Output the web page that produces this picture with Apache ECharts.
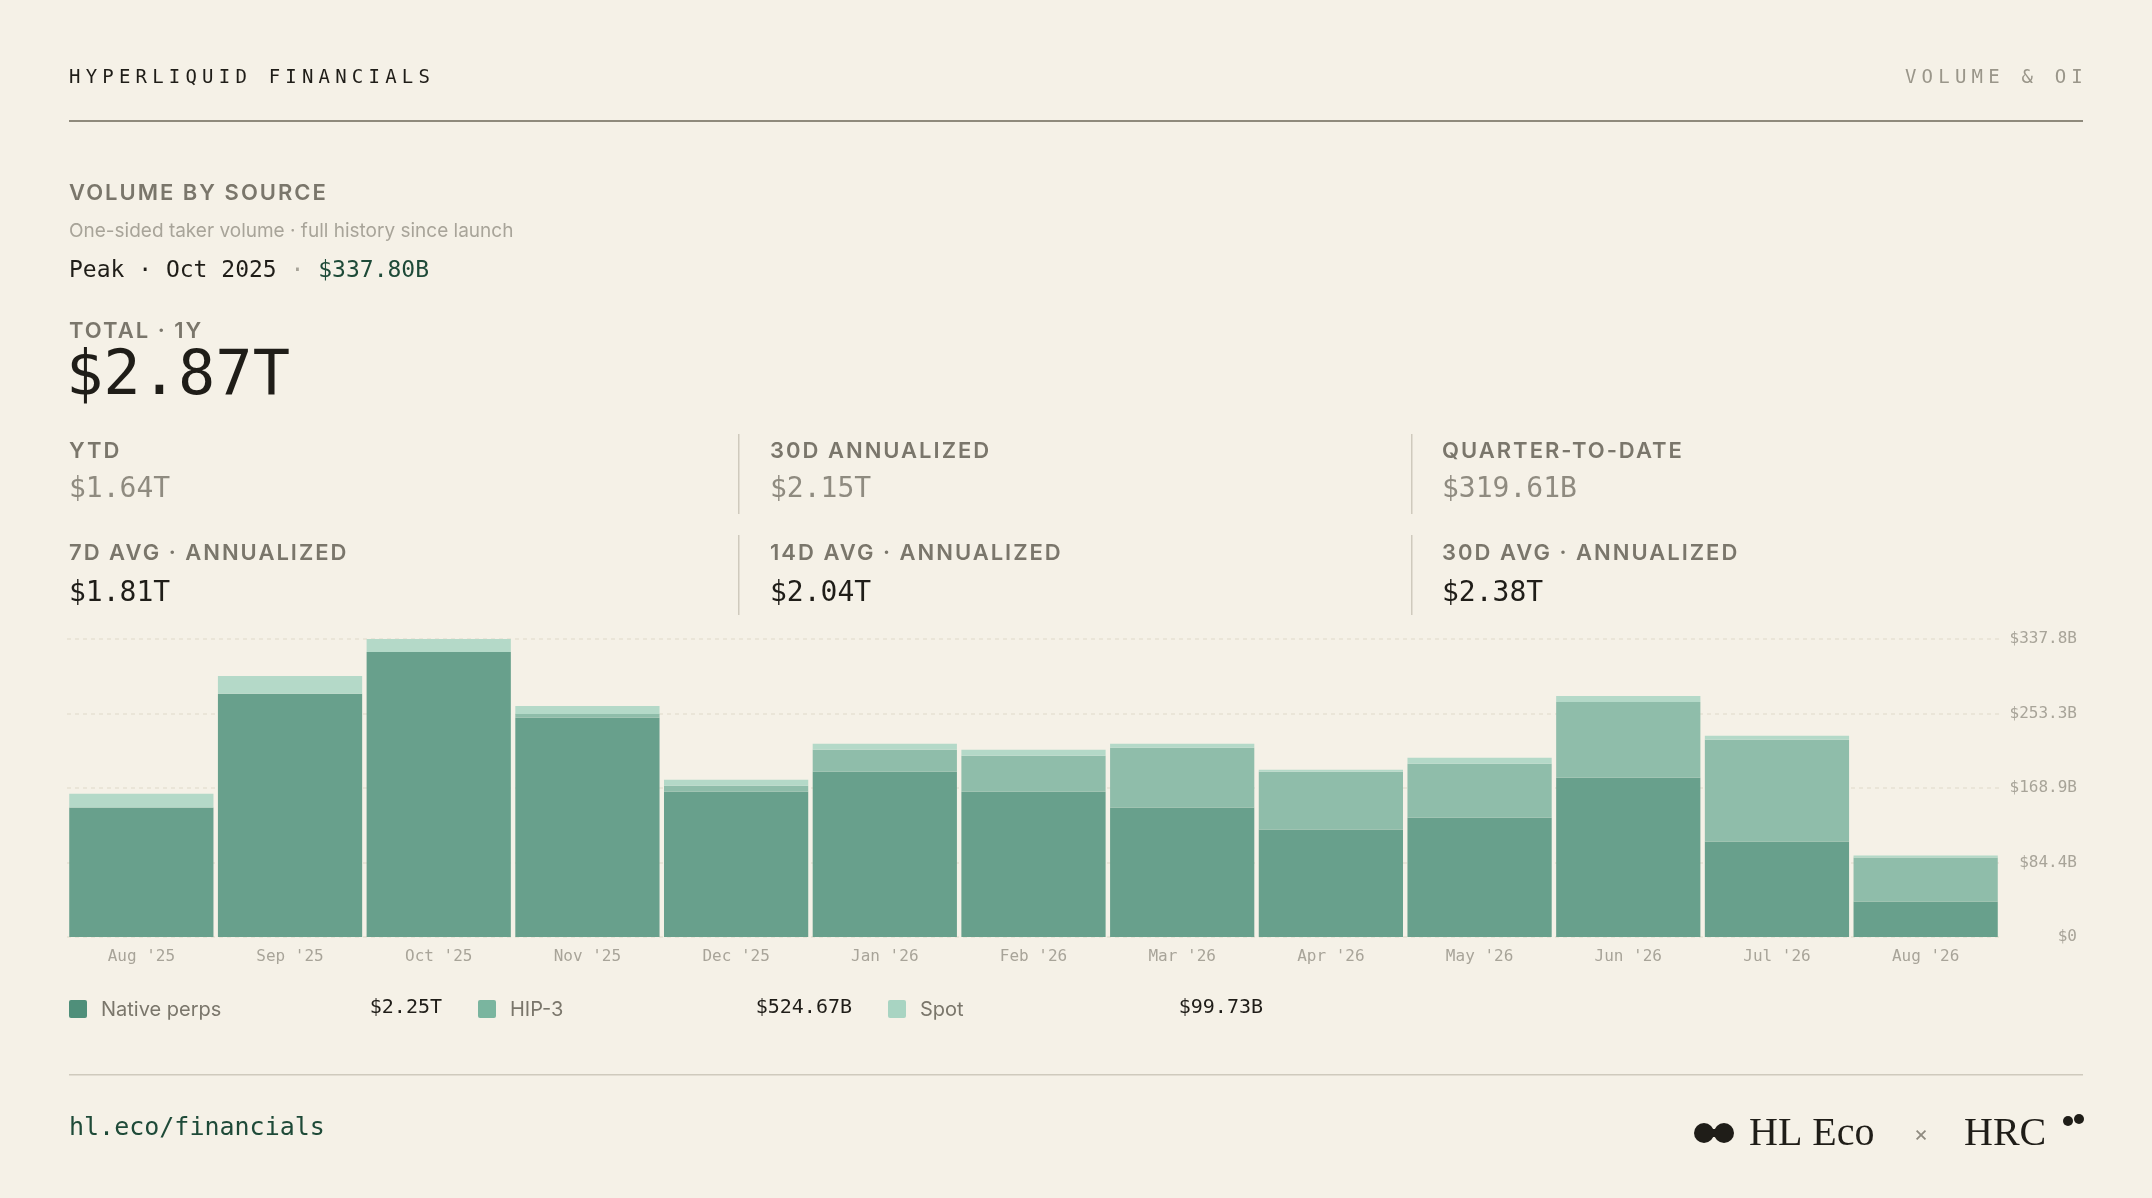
<!DOCTYPE html>
<html lang="en">
<head>
  <meta charset="UTF-8">
  <title>Hyperliquid Financials</title>
  <style>
    html, body {margin: 0; padding: 0; background: #f5f1e7;}
    #chart {width: 2152px; height: 1198px;}
    .lbl {position: absolute; white-space: nowrap; line-height: 1; transform: translateY(-50%);}
    .mono {font-family: "DejaVu Sans Mono", monospace; font-size: 19px; letter-spacing: 5.2px;}
    .cap {font-family: Inter, "Noto Sans", sans-serif; font-size: 22px; font-weight: 600; letter-spacing: 2px; color: #7a766b;}
  </style>
</head>
<body>
  <div id="chart"></div>
  <div class="lbl mono" style="left:69px; top:76px; color:#1f1d18;">HYPERLIQUID FINANCIALS</div>
  <div class="lbl mono" style="right:64px; top:76px; color:#9a968a;">VOLUME &amp; OI</div>
  <div class="lbl cap" style="left:69px; top:192px;">VOLUME BY SOURCE</div>
  <div class="lbl cap" style="left:69px; top:330px;">TOTAL · 1Y</div>
  <div class="lbl cap" style="left:69px; top:450px;">YTD</div>
  <div class="lbl cap" style="left:770px; top:450px;">30D ANNUALIZED</div>
  <div class="lbl cap" style="left:1442px; top:450px;">QUARTER-TO-DATE</div>
  <div class="lbl cap" style="left:69px; top:552px;">7D AVG · ANNUALIZED</div>
  <div class="lbl cap" style="left:770px; top:552px;">14D AVG · ANNUALIZED</div>
  <div class="lbl cap" style="left:1442px; top:552px;">30D AVG · ANNUALIZED</div>
  <script src="https://cdn.jsdelivr.net/npm/echarts@6/dist/echarts.min.js"></script>
  <script>
    // data (billions USD)
    var months = ["Aug '25", "Sep '25", "Oct '25", "Nov '25", "Dec '25", "Jan '26", "Feb '26",
                  "Mar '26", "Apr '26", "May '26", "Jun '26", "Jul '26", "Aug '26"];
    var nativePerps = [146.7, 275.6, 323.1, 248.4, 164.7, 187.4, 164.7, 146.7, 121.8, 135.3, 180.6, 108.2, 40.3];
    var hip3 = [0, 0, 0, 4.5, 6.8, 24.9, 40.8, 67.8, 65.6, 61.1, 85.9, 115.4, 49.8];
    var spot = [15.8, 20.4, 14.7, 9.0, 6.8, 6.8, 6.8, 4.5, 2.3, 6.8, 6.8, 4.5, 2.3];
    var axisMax = 337.8;
    var axisTicks = ['$0', '$84.4B', '$168.9B', '$253.3B', '$337.8B'];
    var legendNames = ['Native perps', 'HIP-3', 'Spot'];
    var legendTotals = ['$2.25T', '$524.67B', '$99.73B'];
    var kpiRow1 = ['$1.64T', '$2.15T', '$319.61B'];
    var kpiRow2 = ['$1.81T', '$2.04T', '$2.38T'];

    var MONO = '"DejaVu Sans Mono", monospace';
    var SANS = 'Inter, "Noto Sans", sans-serif';
    var SERIF = '"Liberation Serif", "DejaVu Serif", serif';
    var barColors = ['#68a08c', '#8fbdaa', '#b4d9c8'];
    var swatchColors = ['#4f8f7a', '#7ab59f', '#a8d4c2'];

    var chart = echarts.init(document.getElementById('chart'));

    function txt(x, y, text, size, color, font, extra) {
      var s = {text: text, fontSize: size, fill: color, fontFamily: font, textVerticalAlign: 'middle'};
      for (var k in extra) s[k] = extra[k];
      return {type: 'text', x: x, y: y, style: s};
    }

    var g = [];
    g.push({type: 'rect', shape: {x: 69, y: 120, width: 2014, height: 2}, style: {fill: '#8f8a7c'}});
    g.push(txt(69, 231, 'One-sided taker volume · full history since launch', 19, '#a8a499', SANS, {}));
    g.push({type: 'text', x: 69, y: 271, style: {
      text: '{a|Peak · Oct 2025}{b| · }{c|$337.80B}', fontFamily: MONO, textVerticalAlign: 'middle',
      rich: {a: {fontSize: 23, fill: '#1f1d18', fontFamily: MONO},
             b: {fontSize: 23, fill: '#a8a499', fontFamily: MONO},
             c: {fontSize: 23, fill: '#1e4a38', fontFamily: MONO}}}});
    g.push(txt(66, 378, '$2.87T', 62, '#1f1d18', MONO, {}));

    var cols = [69, 770, 1442];
    for (var i = 0; i < 3; i++) {
      g.push(txt(cols[i], 490, kpiRow1[i], 28, '#8f8b80', MONO, {}));
      g.push(txt(cols[i], 594, kpiRow2[i], 28, '#1f1d18', MONO, {}));
    }
    [738, 1411].forEach(function (x) {
      g.push({type: 'rect', shape: {x: x, y: 434, width: 1.5, height: 80}, style: {fill: '#cfcabd'}});
      g.push({type: 'rect', shape: {x: x, y: 535, width: 1.5, height: 80}, style: {fill: '#cfcabd'}});
    });

    // legend
    var swX = [69, 478, 888], valX = [442, 852, 1263];
    for (var j = 0; j < 3; j++) {
      g.push({type: 'rect', shape: {x: swX[j], y: 1000, width: 18, height: 18, r: 2}, style: {fill: swatchColors[j]}});
      g.push(txt(swX[j] + 32, 1010, legendNames[j], 20, '#7a766b', SANS, {}));
      g.push(txt(valX[j], 1008, legendTotals[j], 20, '#1f1d18', MONO, {align: 'right'}));
    }

    // footer
    g.push({type: 'rect', shape: {x: 69, y: 1074, width: 2014, height: 1.5}, style: {fill: '#cfcabd'}});
    g.push(txt(69, 1128, 'hl.eco/financials', 25, '#1e4a38', MONO, {}));
    g.push({type: 'circle', shape: {cx: 1704, cy: 1133, r: 10}, style: {fill: '#1f1d18'}});
    g.push({type: 'circle', shape: {cx: 1724, cy: 1133, r: 10}, style: {fill: '#1f1d18'}});
    g.push({type: 'rect', shape: {x: 1704, y: 1129, width: 20, height: 8}, style: {fill: '#1f1d18'}});
    g.push(txt(1749, 1134, 'HL Eco', 40, '#1f1d18', SERIF, {}));
    g.push(txt(1921, 1134, '×', 22, '#8f8b80', SANS, {align: 'center'}));
    g.push(txt(1964, 1134, 'HRC', 40, '#1f1d18', SERIF, {}));
    g.push({type: 'circle', shape: {cx: 2068, cy: 1121, r: 5}, style: {fill: '#1f1d18'}});
    g.push({type: 'circle', shape: {cx: 2079, cy: 1119, r: 5}, style: {fill: '#1f1d18'}});

    function barSeries(name, data, color) {
      return {
        name: name, type: 'bar', stack: 'vol', data: data, barCategoryGap: '3%',
        itemStyle: {color: color}, emphasis: {disabled: true}
      };
    }

    var option = {
      backgroundColor: '#f5f1e7',
      animation: false,
      grid: {left: 67, right: 152, top: 639, bottom: 261, containLabel: false},
      xAxis: {
        type: 'category', data: months,
        axisLine: {show: false}, axisTick: {show: false},
        axisLabel: {color: '#a8a499', fontFamily: MONO, fontSize: 16, margin: 12}
      },
      yAxis: {
        type: 'value', position: 'right', min: 0, max: axisMax, interval: axisMax / 4,
        axisLine: {show: false}, axisTick: {show: false},
        axisLabel: {
          color: '#a8a499', fontFamily: MONO, fontSize: 16, margin: 77, align: 'right',
          formatter: function (v, idx) { return axisTicks[idx]; }
        },
        splitLine: {lineStyle: {color: '#e6e1d4', type: [4, 4], width: 1.5}}
      },
      series: [
        barSeries(legendNames[0], nativePerps, barColors[0]),
        barSeries(legendNames[1], hip3, barColors[1]),
        barSeries(legendNames[2], spot, barColors[2])
      ],
      graphic: g
    };
    chart.setOption(option);
  </script>
</body>
</html>
